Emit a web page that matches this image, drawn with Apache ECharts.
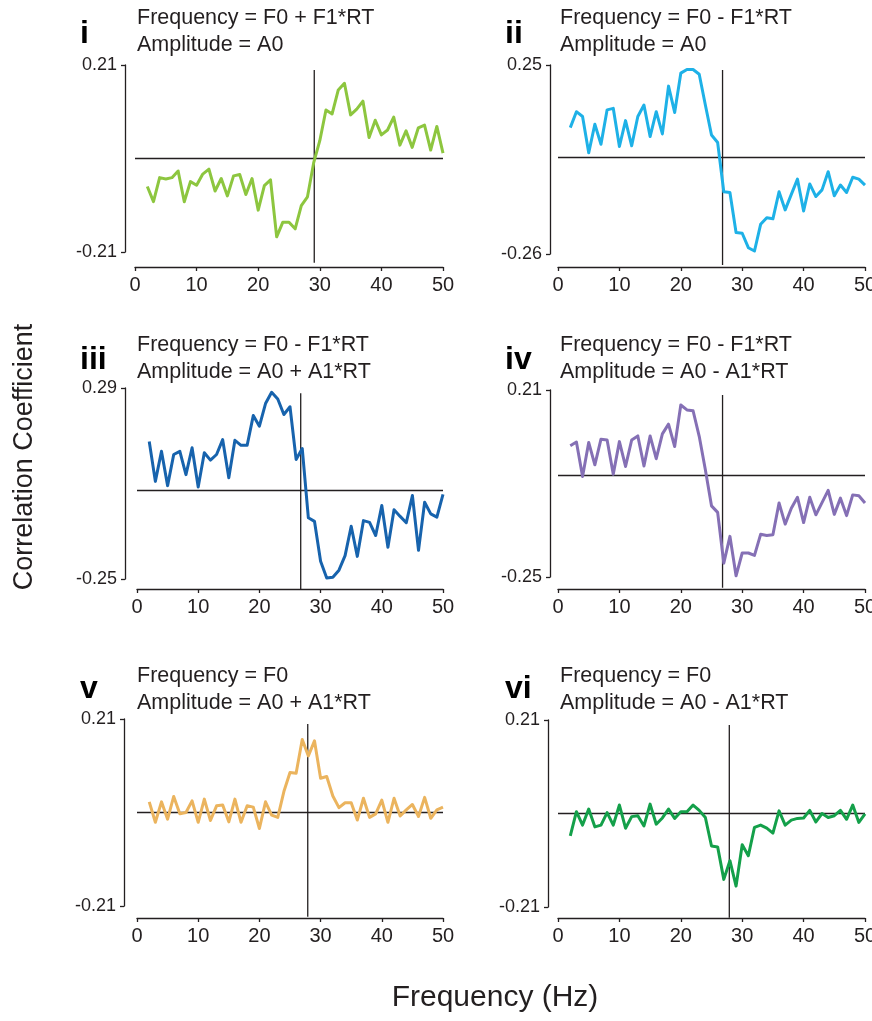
<!DOCTYPE html>
<html>
<head>
<meta charset="utf-8">
<script src="https://cdn.jsdelivr.net/npm/echarts@6/dist/echarts.min.js"></script>
<style>
  html, body { margin: 0; padding: 0; background: #ffffff; }
  #chart { width: 872px; height: 1021px; }
</style>
</head>
<body>
<div id="chart"></div>
<script>
// Frequency bins (Hz)
const freqs = [2,3,4,5,6,7,8,9,10,11,12,13,14,15,16,17,18,19,20,21,22,23,24,25,26,
               27,28,29,30,31,32,33,34,35,36,37,38,39,40,41,42,43,44,45,46,47,48,49,50];

// Correlation coefficient per frequency, one array per model
const corrI = [-0.063,-0.097,-0.043,-0.046,-0.043,-0.028,-0.097,-0.052,-0.060,-0.035,-0.024,-0.073,-0.045,-0.084,-0.039,-0.036,-0.081,-0.045,-0.116,-0.061,-0.048,-0.176,-0.143,-0.143,-0.158,-0.106,-0.086,-0.010,0.040,0.109,0.100,0.154,0.169,0.098,0.111,0.129,0.047,0.086,0.053,0.064,0.093,0.030,0.062,0.025,0.069,0.075,0.019,0.072,0.012];
const corrII = [0.081,0.124,0.111,0.013,0.090,0.036,0.129,0.133,0.030,0.100,0.032,0.111,0.142,0.057,0.124,0.064,0.193,0.122,0.228,0.238,0.238,0.225,0.142,0.061,0.041,-0.092,-0.094,-0.202,-0.204,-0.243,-0.252,-0.180,-0.162,-0.165,-0.092,-0.141,-0.099,-0.058,-0.144,-0.071,-0.105,-0.087,-0.038,-0.103,-0.074,-0.094,-0.053,-0.058,-0.074];
const corrIII = [0.139,0.026,0.111,0.014,0.102,0.111,0.045,0.121,0.010,0.107,0.086,0.102,0.144,0.036,0.142,0.128,0.128,0.212,0.182,0.246,0.278,0.259,0.215,0.237,0.088,0.119,-0.077,-0.087,-0.200,-0.247,-0.245,-0.225,-0.184,-0.101,-0.186,-0.085,-0.090,-0.127,-0.042,-0.160,-0.054,-0.073,-0.091,-0.014,-0.169,-0.033,-0.066,-0.075,-0.011];
const corrIV = [0.073,0.082,-0.003,0.081,0.026,0.089,0.087,0.003,0.083,0.022,0.087,0.097,0.023,0.097,0.041,0.102,0.126,0.071,0.173,0.161,0.159,0.096,0.014,-0.075,-0.091,-0.216,-0.150,-0.247,-0.191,-0.191,-0.197,-0.145,-0.148,-0.146,-0.068,-0.120,-0.081,-0.054,-0.116,-0.054,-0.097,-0.067,-0.037,-0.096,-0.056,-0.099,-0.048,-0.050,-0.068];
const corrV = [0.024,-0.022,0.024,-0.015,0.036,-0.003,0.000,0.026,-0.022,0.030,-0.018,0.015,0.017,-0.021,0.030,-0.022,0.015,0.012,-0.036,0.024,-0.006,-0.011,0.047,0.090,0.088,0.164,0.127,0.161,0.077,0.081,0.037,0.011,0.022,0.022,-0.017,0.032,-0.011,-0.003,0.028,-0.022,0.032,-0.008,0.006,0.018,-0.009,0.034,-0.013,0.006,0.012];
const corrVI = [-0.050,0.004,-0.026,0.010,-0.030,-0.026,0.002,-0.026,0.019,-0.033,-0.007,-0.005,-0.028,0.021,-0.024,-0.010,0.010,-0.011,0.004,0.004,0.019,0.007,-0.009,-0.073,-0.075,-0.148,-0.106,-0.163,-0.070,-0.095,-0.031,-0.026,-0.033,-0.044,0.006,-0.026,-0.015,-0.011,-0.010,0.007,-0.019,0.000,-0.009,-0.005,0.007,-0.013,0.019,-0.020,-0.001];

// Per-panel y range (bottom / top tick labels)
const yBottom = [-0.21, -0.26, -0.25, -0.25, -0.21, -0.21];
const yTop    = [ 0.21,  0.25,  0.29,  0.21,  0.21,  0.21];
// Frequency marked by the vertical reference line in each panel
const markFreq = [29.1, 26.8, 26.75, 26.8, 27.9, 27.9];

const panelTags = ['i', 'ii', 'iii', 'iv', 'v', 'vi'];
const freqModels = ['Frequency = F0 + F1*RT', 'Frequency = F0 - F1*RT', 'Frequency = F0 - F1*RT',
                    'Frequency = F0 - F1*RT', 'Frequency = F0', 'Frequency = F0'];
const ampModels = ['Amplitude = A0', 'Amplitude = A0', 'Amplitude = A0 + A1*RT',
                   'Amplitude = A0 - A1*RT', 'Amplitude = A0 + A1*RT', 'Amplitude = A0 - A1*RT'];
const xTickStep = 10;

const series = [corrI, corrII, corrIII, corrIV, corrV, corrVI];
const colors = ['#8DC63F', '#1EB1E7', '#1763AD', '#8570B5', '#EBB45E', '#14A04A'];

// Layout of the six plotting areas (pixels)
const boxes = [
  { left: 135, top: 65,  width: 308, height: 187, xOff: 15, yOff: 10 },
  { left: 558, top: 65,  width: 307, height: 189, xOff: 13, yOff: 8 },
  { left: 137, top: 388, width: 306, height: 191, xOff: 10, yOff: 12 },
  { left: 558, top: 390, width: 307, height: 187, xOff: 12, yOff: 8 },
  { left: 137, top: 719, width: 306, height: 187, xOff: 12, yOff: 13 },
  { left: 558, top: 720, width: 307, height: 187, xOff: 11, yOff: 10 }
];
const titleTops = [5, 5, 332, 332, 663, 663];
const tagTops = [18, 18, 344, 344, 673, 673];
const tagLefts = [80, 505, 80, 505, 80, 505];
const modelLefts = [137, 560, 137, 560, 137, 560];

const FONT = '"Liberation Sans", Arial, Helvetica, sans-serif';
const INK = '#231f20';

const fmt = v => (Math.round(v * 100) / 100).toFixed(2);

const grids = [], xAxes = [], yAxes = [], seriesList = [], titles = [];

boxes.forEach((b, i) => {
  grids.push({ left: b.left, top: b.top, width: b.width, height: b.height,
               containLabel: false, outerBoundsMode: 'none' });
  xAxes.push({
    gridIndex: i, type: 'value', min: 0, max: 50, interval: xTickStep,
    position: 'bottom', offset: b.xOff,
    axisLine: { show: true, onZero: false, lineStyle: { color: INK, width: 1.3 } },
    axisTick: { show: true, length: 4, lineStyle: { color: INK, width: 1.3 } },
    axisLabel: { fontSize: 20, color: INK, fontFamily: FONT, margin: 8 },
    splitLine: { show: false }
  });
  const lo = yBottom[i], hi = yTop[i];
  yAxes.push({
    gridIndex: i, type: 'value', min: lo, max: hi,
    position: 'left', offset: b.yOff,
    axisLine: { show: true, onZero: false, lineStyle: { color: INK, width: 1.3 } },
    axisTick: { show: true, length: 4, customValues: [lo, hi], lineStyle: { color: INK, width: 1.3 } },
    axisLabel: { fontSize: 18, color: INK, fontFamily: FONT, margin: 8,
                 customValues: [lo, hi], formatter: fmt },
    splitLine: { show: false }
  });
  const span = hi - lo;
  // vertical reference line, reaching a little below the axis range
  seriesList.push({
    type: 'line', xAxisIndex: i, yAxisIndex: i, silent: true, clip: false,
    showSymbol: false, symbol: 'none', z: 2,
    lineStyle: { color: INK, width: 1.3 },
    data: [[markFreq[i], lo - 0.058 * span], [markFreq[i], hi - 0.027 * span]]
  });
  seriesList.push({
    type: 'line', xAxisIndex: i, yAxisIndex: i, silent: true,
    showSymbol: false, symbol: 'none', z: 3,
    lineStyle: { color: colors[i], width: 3, join: 'round' },
    data: freqs.map((f, k) => [f, series[i][k]]),
    markLine: {
      silent: true, symbol: 'none', z: 1,
      label: { show: false },
      lineStyle: { color: INK, width: 1.3, type: 'solid' },
      data: [{ yAxis: 0 }]
    }
  });
  titles.push({
    text: panelTags[i], left: tagLefts[i], top: tagTops[i], padding: 0,
    textStyle: { fontSize: 32, fontWeight: 'bold', color: '#000', fontFamily: FONT }
  });
  titles.push({
    text: freqModels[i] + '\n' + ampModels[i], left: modelLefts[i], top: titleTops[i], padding: 0,
    textStyle: { fontSize: 21.5, fontWeight: 'normal', color: INK, fontFamily: FONT, lineHeight: 27 }
  });
});

const chart = echarts.init(document.getElementById('chart'), null, { renderer: 'canvas' });
chart.setOption({
  backgroundColor: '#ffffff',
  animation: false,
  title: titles,
  grid: grids,
  xAxis: xAxes,
  yAxis: yAxes,
  series: seriesList,
  graphic: [
    {
      type: 'text', x: 25, y: 457, rotation: Math.PI / 2,
      style: { text: 'Correlation Coefficient', fontSize: 27, fill: INK, fontFamily: FONT,
               align: 'center', verticalAlign: 'middle' }
    },
    {
      type: 'text', x: 495, y: 998,
      style: { text: 'Frequency (Hz)', fontSize: 30, fill: INK, fontFamily: FONT,
               align: 'center', verticalAlign: 'middle' }
    }
  ]
});
</script>
</body>
</html>
